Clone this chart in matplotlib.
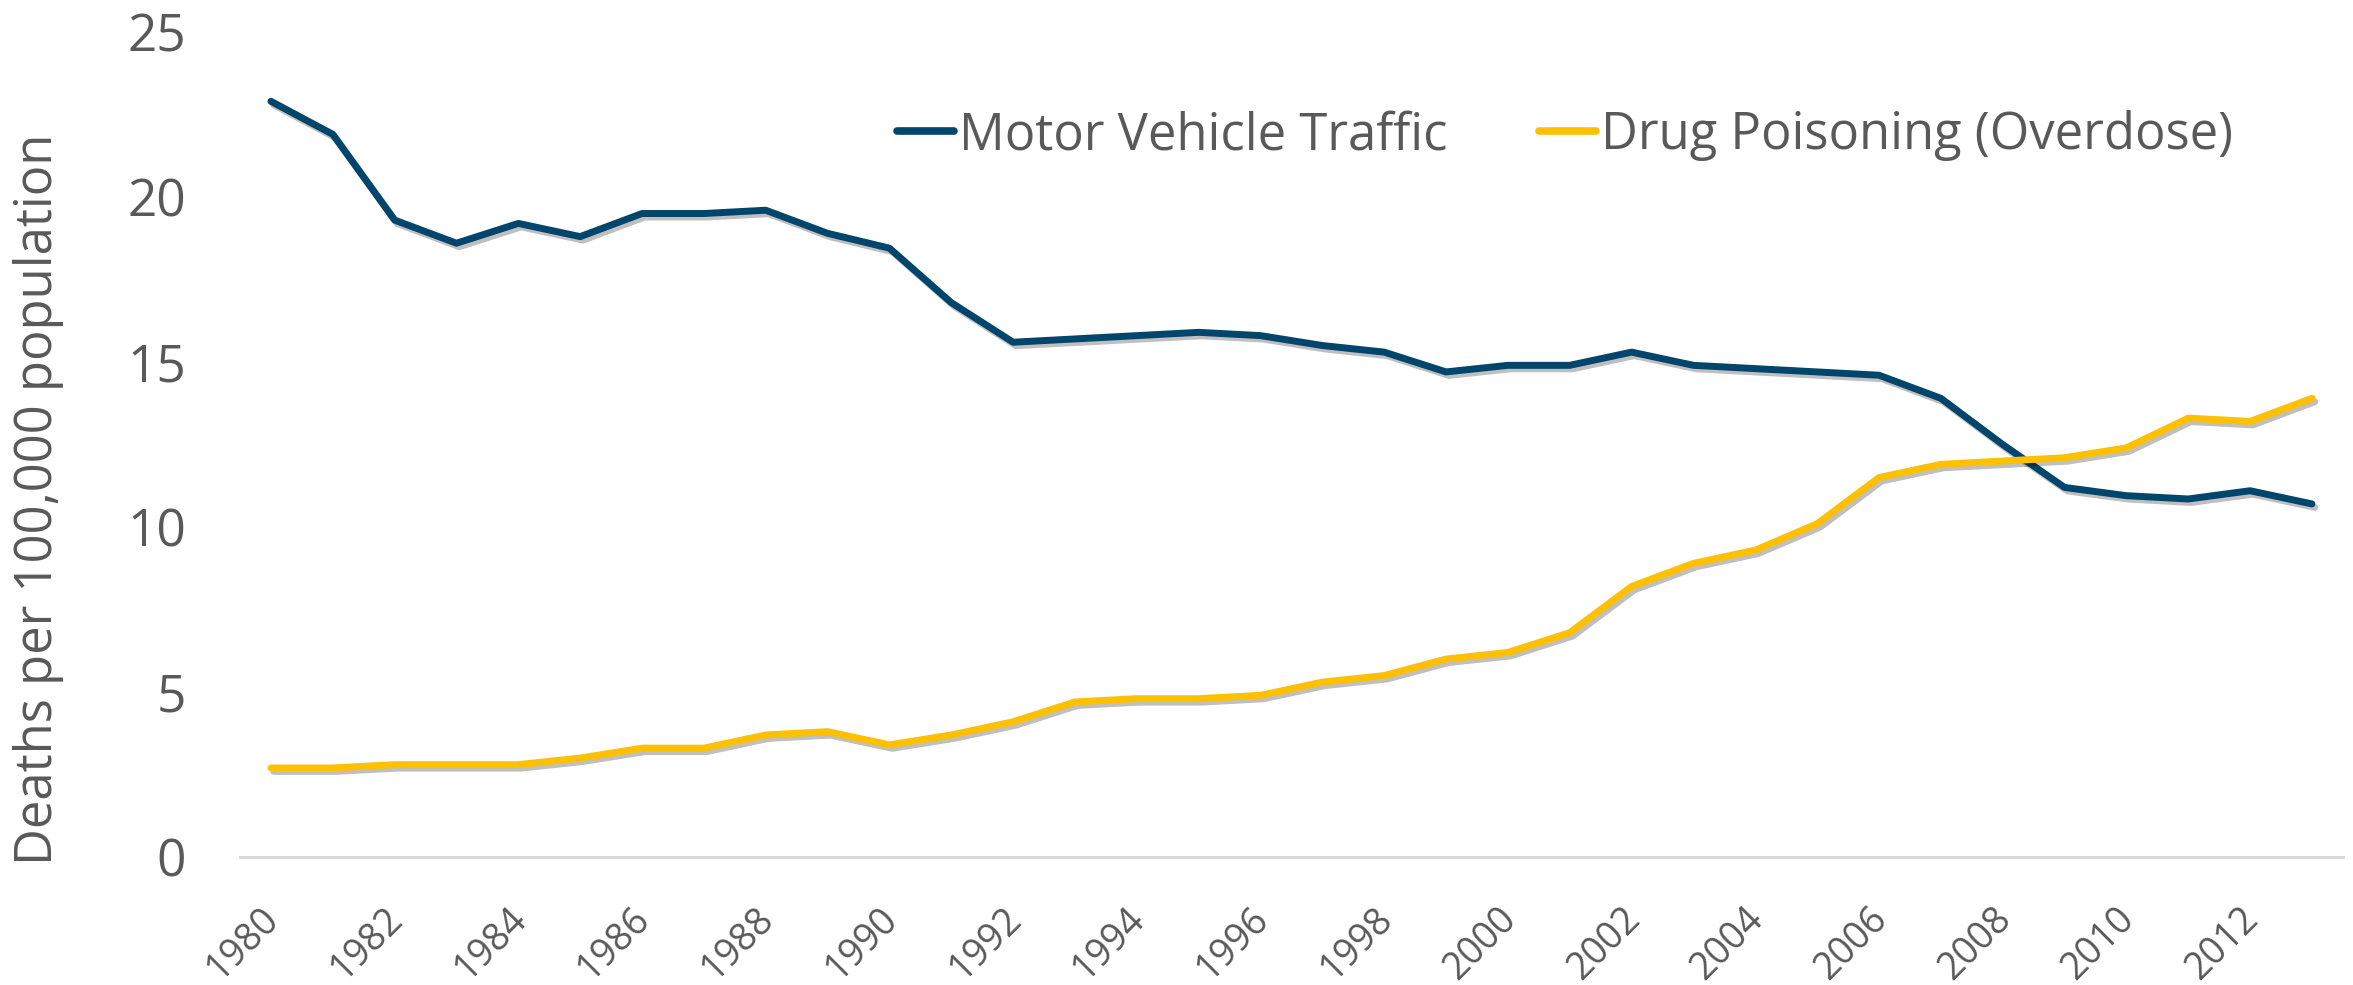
import matplotlib
matplotlib.use("Agg")
import matplotlib.pyplot as plt
import matplotlib.patheffects as pe
import matplotlib.transforms as mtransforms

years = list(range(1980, 2014))
motor_vehicle = [22.9, 21.9, 19.3, 18.6, 19.2, 18.8, 19.5, 19.5, 19.6, 18.9,
                 18.45, 16.8, 15.6, 15.7, 15.8, 15.9, 15.8, 15.5, 15.3, 14.7,
                 14.9, 14.9, 15.3, 14.9, 14.8, 14.7, 14.6, 13.9, 12.5, 11.2,
                 10.95, 10.85, 11.1, 10.7]
drug_poisoning = [2.7, 2.7, 2.8, 2.8, 2.8, 3.0, 3.3, 3.3, 3.7, 3.8,
                  3.4, 3.7, 4.1, 4.7, 4.8, 4.8, 4.9, 5.3, 5.5, 6.0,
                  6.2, 6.8, 8.2, 8.9, 9.3, 10.1, 11.5, 11.9, 12.0, 12.1,
                  12.4, 13.3, 13.2, 13.9]
series_names = ["Motor Vehicle Traffic", "Drug Poisoning (Overdose)"]
y_ticks = [0, 5, 10, 15, 20, 25]
x_ticks = list(range(1980, 2013, 2))
y_label = "Deaths per 100,000 population"

plt.rcParams['font.family'] = ['Open Sans', 'DejaVu Sans']
text_color = '#595959'

fig = plt.figure(figsize=(23.53, 9.85), dpi=100)
ax = fig.add_axes([0.102, 0.1299, 0.8937, 0.8376])

shadow = [pe.SimpleLineShadow(offset=(2, -2.5), alpha=0.25, shadow_color='black'), pe.Normal()]
ax.plot(years, motor_vehicle, color='#00456B', lw=5.0, label=series_names[0],
        solid_capstyle='round', path_effects=shadow)
ax.plot(years, drug_poisoning, color='#FFC000', lw=5.0, label=series_names[1],
        solid_capstyle='round', path_effects=shadow)

ax.set_xlim(1979.5, 2013.5)
ax.set_ylim(0, 25)
ax.set_yticks(y_ticks)
ax.set_xticks(x_ticks)
ax.set_xticklabels([str(x) for x in x_ticks], rotation=45, ha='right', va='center',
                   rotation_mode='anchor')
for s in ['top', 'right', 'left']:
    ax.spines[s].set_visible(False)
ax.spines['bottom'].set_color('#D9D9D9')
ax.spines['bottom'].set_linewidth(2.2)
ax.tick_params(axis='y', length=0, pad=39, labelsize=37, labelcolor=text_color)
ax.tick_params(axis='x', length=0, pad=40.5, labelsize=27, labelcolor=text_color)
shift = mtransforms.ScaledTranslation(2.5 / 100, 0, fig.dpi_scale_trans)
for lbl in ax.get_xticklabels():
    lbl.set_transform(lbl.get_transform() + shift)

ax.set_ylabel(y_label, fontsize=36.5, color=text_color)
ax.yaxis.label.set(ha='center', va='center')
ax.yaxis.set_label_coords(-0.096, 0.433)

leg = ax.legend(loc='upper left', bbox_to_anchor=(0.303, 0.93), ncol=2, frameon=False,
                fontsize=36.5, handlelength=1.12, handletextpad=0.1, columnspacing=1.8,
                labelcolor=text_color, borderaxespad=0)
for line in leg.get_lines():
    line.set_linewidth(5.5)
    line.set_solid_capstyle('round')
    line.set_path_effects([])

fig.savefig('out.png', dpi=100, facecolor='white')
